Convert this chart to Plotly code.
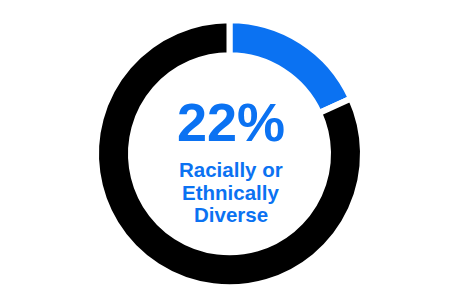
import plotly.graph_objects as go

# Data
labels = ["Racially or Ethnically Diverse", "Other"]
values = [18.2, 81.8]
colors = ["#0B72F2", "#000000"]
headline = "22%"
sub_lines = ["Racially or", "Ethnically", "Diverse"]

W, H = 460, 308
R = 133.5
cx, cy = 229.5, 153.8  # pixel centre (from top)

fig = go.Figure(go.Pie(
    labels=labels, values=values,
    marker=dict(colors=colors, line=dict(color="white", width=6)),
    hole=0.738, sort=False, direction="clockwise", rotation=0,
    textinfo="none", hoverinfo="skip", showlegend=False,
    domain=dict(x=[(cx - R) / W, (cx + R) / W], y=[1 - (cy + R) / H, 1 - (cy - R) / H]),
))

blue = colors[0]
fig.add_annotation(text=f"<b>{headline}</b>", x=231 / W, y=1 - 121.8 / H, xref="paper", yref="paper",
                   xanchor="center", yanchor="middle", showarrow=False,
                   font=dict(family="Liberation Sans, Arial, sans-serif", size=54, color=blue))
line_mid = [169.3, 192.0, 214.7]
for t, ym in zip(sub_lines, line_mid):
    fig.add_annotation(text=f"<b>{t}</b>", x=230.5 / W, y=1 - ym / H, xref="paper", yref="paper",
                       xanchor="center", yanchor="middle", showarrow=False,
                       font=dict(family="Liberation Sans, Arial, sans-serif", size=20.5, color=blue))

fig.update_layout(width=W, height=H, margin=dict(l=0, r=0, t=0, b=0),
                  paper_bgcolor="white", plot_bgcolor="white")
fig.write_html("out.html")
